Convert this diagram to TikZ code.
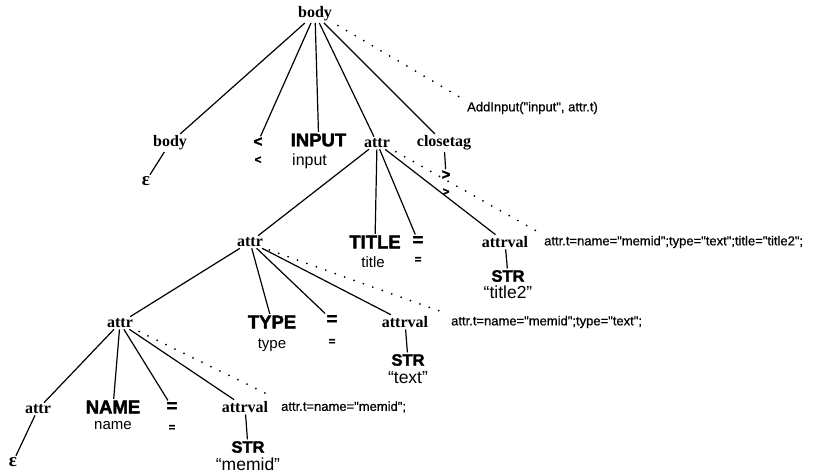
\documentclass[tikz,border=0pt]{standalone}
\usepackage{fontspec}
\setmainfont{Liberation Serif}
\newfontfamily\sansf{Liberation Sans}
\newfontfamily\heavyf{Liberation Sans Bold}[FakeBold=2]
\newfontfamily\annf{Liberation Sans}[FakeBold=0.6]
\usetikzlibrary{calc}

\tikzset{
  nt/.style={font=\bfseries\fontsize{16}{18}\selectfont, inner sep=1.5pt},
  tok/.style={font=\heavyf\fontsize{18.5}{20}\selectfont, inner sep=1.5pt},
  strtok/.style={font=\heavyf\fontsize{16.5}{18}\selectfont, inner sep=1.5pt},
  val/.style={font=\sansf\fontsize{15}{17}\selectfont, inner sep=1pt},
  sval/.style={font=\sansf\fontsize{17.5}{19}\selectfont, inner sep=1pt},
  sym/.style={font=\heavyf\fontsize{15}{16}\selectfont, inner sep=1pt},
  symv/.style={font=\heavyf\fontsize{11.5}{13}\selectfont, inner sep=1pt},
  ann/.style={font=\annf\fontsize{13}{15}\selectfont, anchor=west, inner sep=1pt},
  edge/.style={line width=1.2pt},
  dots/.style={line width=2pt, line cap=round, dash pattern=on 0pt off 10pt,
               shorten <=5pt, shorten >=8pt},
}

\begin{document}
\begin{tikzpicture}[x=1pt, y=-1pt]
\useasboundingbox (0,0) rectangle (835,475);

% --- root production
\node[nt] (b0) at (315,14) {body};
\node[nt] (b1) at (170,143) {body};
\node[nt, font=\bfseries\fontsize{19}{20}\selectfont] (e1) at (146,181) {ε};
\node[sym] (lt) at (258,142) {<};
\node[symv] (ltv) at (258,160) {<};
\node[tok, anchor=west] (inp) at (289,140) {INPUT};
\node[val, anchor=west, font=\sansf\fontsize{16}{17}\selectfont] (inpv) at (291,161) {input};
\node[nt] (a1) at (377,143) {attr};
\node[nt] (ct) at (444,143) {closetag};
\node[sym] (gt) at (446,175) {>};
\node[symv] (gtv) at (446,192) {>};
\node[ann] (ann1) at (466,108) {AddInput("input", attr.t)};

\draw[edge] (b0) -- (b1);
\draw[edge] (b0) -- (lt);
\draw[edge] (b0) -- (inp.north);
\draw[edge] (b0) -- (a1);
\draw[edge] (b0) -- (ct);
\draw[edge] (b1) -- (e1);
\draw[edge] (ct) -- (gt);
\draw[dots] (b0.south east) -- (ann1.north west);

% --- attr -> attr TITLE = attrval
\node[nt] (a2) at (250,242) {attr};
\node[tok] (ttl) at (375,242) {TITLE};
\node[val] (ttlv) at (373,262) {title};
\node[tok] (eq1) at (418,241) {=};
\node[symv] (eq1v) at (418,260) {=};
\node[nt] (av1) at (505,242) {attrval};
\node[strtok] (s1) at (508,276) {STR};
\node[sval] (s1v) at (508,292) {“title2”};
\node[ann] (ann2) at (543,242) {attr.t=name="memid";type="text";title="title2";};

\draw[edge] (a1) -- (a2);
\draw[edge] (a1) -- (ttl);
\draw[edge] (a1) -- (eq1);
\draw[edge] (a1) -- (av1);
\draw[edge] (av1) -- (s1);
\draw[dots] (a1.south east) -- (ann2.north west);

% --- attr -> attr TYPE = attrval
\node[nt] (a3) at (120,323) {attr};
\node[tok] (typ) at (272,322) {TYPE};
\node[val] (typv) at (272,345) {type};
\node[tok] (eq2) at (332,320) {=};
\node[symv] (eq2v) at (332,342) {=};
\node[nt] (av2) at (405,322) {attrval};
\node[strtok] (s2) at (408,360) {STR};
\node[sval] (s2v) at (408,378) {“text”};
\node[ann] (ann3) at (450,322) {attr.t=name="memid";type="text";};

\draw[edge] (a2) -- (a3);
\draw[edge] (a2) -- (typ);
\draw[edge] (a2) -- (eq2);
\draw[edge] (a2) -- (av2);
\draw[edge] (av2) -- (s2);
\draw[dots] (a2.south east) -- (ann3.north west);

% --- attr -> attr NAME = attrval
\node[nt] (a4) at (38,409) {attr};
\node[nt, font=\bfseries\fontsize{19}{20}\selectfont] (e2) at (13,462) {ε};
\node[tok] (nam) at (113,407) {NAME};
\node[val] (namv) at (113,426) {name};
\node[tok] (eq3) at (172,407) {=};
\node[symv] (eq3v) at (172,428) {=};
\node[nt] (av3) at (245,407) {attrval};
\node[strtok] (s3) at (248,447) {STR};
\node[sval] (s3v) at (248,464) {“memid”};
\node[ann] (ann4) at (280,407) {attr.t=name="memid";};

\draw[edge] (a3) -- (a4);
\draw[edge] (a3) -- (nam);
\draw[edge] (a3) -- (eq3);
\draw[edge] (a3) -- (av3);
\draw[edge] (a4) -- (e2);
\draw[edge] (av3) -- (s3);
\draw[dots] (a3.south east) -- (ann4.north west);
\end{tikzpicture}
\end{document}
